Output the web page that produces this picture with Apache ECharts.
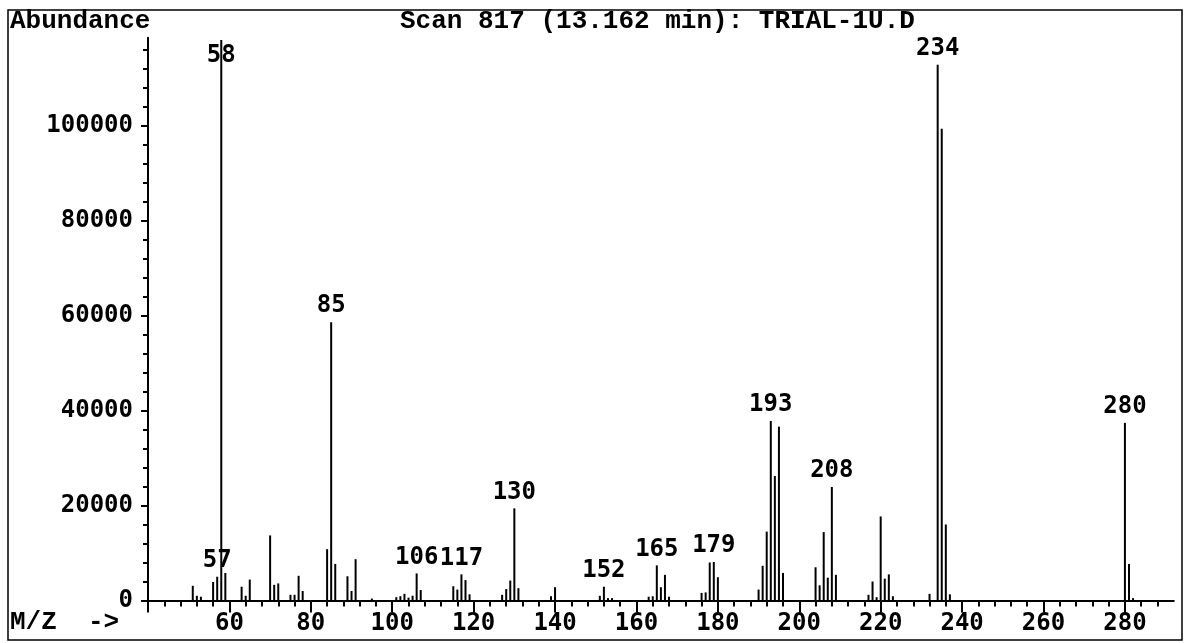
<!DOCTYPE html>
<html>
<head>
<meta charset="utf-8">
<script src="https://cdn.jsdelivr.net/npm/echarts@6/dist/echarts.min.js"></script>
<style>
html,body{margin:0;padding:0;background:#fff;}
#chart{width:1189px;height:643px;}
</style>
</head>
<body>
<div id="chart"></div>
<script>
// ---- data ----
const titleText = 'Scan 817 (13.162 min): TRIAL-1U.D';
const yAxisName = 'Abundance';
const xAxisName = 'M/Z  ->';
const mz = [51,52,53,56,57,58,59,63,64,65,70,71,72,75,76,77,78,84,85,86,89,90,91,
  95,101,102,103,104,105,106,107,115,116,117,118,119,127,128,129,130,131,139,140,
  151,152,153,154,163,164,165,166,167,168,176,177,178,179,180,
  190,191,192,193,194,195,196,204,205,206,207,208,209,217,218,219,220,221,222,223,
  232,234,235,236,237,280,281,282];
const abundance = [3100,1000,800,3900,5000,118000,5800,2900,1000,4400,13700,3300,3600,1200,1200,5200,2000,10800,58600,7700,5100,2000,8700,
  400,700,900,1400,600,1000,5700,2200,3000,2300,5500,4300,1300,1200,2400,4200,19400,2600,900,2800,
  1000,2900,500,500,800,900,7400,2800,5400,800,1600,1700,8000,8100,4900,
  2300,7300,14500,37800,26200,36600,5800,7000,3200,14400,4800,23900,5400,1200,4000,700,17700,4600,5500,900,
  1400,112800,99300,16000,1300,37400,7700,500];
const labeledPeaks = [57,58,85,106,117,130,152,165,179,193,208,234,280];
const xTickLabels = [60,80,100,120,140,160,180,200,220,240,260,280];
const yTickLabels = [0,20000,40000,60000,80000,100000];

// ---- layout (pixels) ----
const X0 = 148, PX = 4.0705;       // pixel of m/z 40, pixels per unit
const Y0 = 600.5, PY = 0.00475;    // baseline pixel, pixels per abundance unit
const XMIN = 40, XMAX = 292, YMAX = 118500;
const FONT = '"Liberation Mono", "DejaVu Sans Mono", monospace';
const NUMFONT = '"DejaVu Sans Mono", "Liberation Mono", monospace';

const seriesData = mz.map((m, i) => {
  const d = { value: [m, abundance[i]] };
  if (labeledPeaks.includes(m)) {
    d.label = { show: true };
    if (m === 58) d.label.offset = [0, 32];
  }
  return d;
});

const chart = echarts.init(document.getElementById('chart'), null, { renderer: 'canvas' });
const hidden = { show: false };
chart.setOption({
  animation: false,
  backgroundColor: '#fff',
  grid: [
    { left: X0, top: Y0 - YMAX * PY, width: (XMAX - XMIN) * PX, height: YMAX * PY, outerBoundsMode: 'none' },
    { left: X0, top: Y0 - 116000 * PY, width: (288 - XMIN) * PX, height: 116000 * PY, outerBoundsMode: 'none' },
    { left: X0, top: Y0 - 100000 * PY, width: (280 - XMIN) * PX, height: 100000 * PY, outerBoundsMode: 'none' }
  ],
  xAxis: [
    { type: 'value', gridIndex: 0, min: XMIN, max: XMAX, axisLine: { lineStyle: { color: '#000', width: 2 } },
      axisTick: hidden, axisLabel: hidden, splitLine: hidden },
    { type: 'value', gridIndex: 1, min: XMIN, max: 288, interval: 4, axisLine: hidden,
      axisTick: { show: true, length: 6, lineStyle: { color: '#000', width: 2 } }, axisLabel: hidden, splitLine: hidden },
    { type: 'value', gridIndex: 2, min: XMIN, max: 280, interval: 20, axisLine: hidden,
      axisTick: { show: true, length: 12, lineStyle: { color: '#000', width: 2 } },
      axisLabel: { show: true, margin: 11, color: '#000', fontFamily: NUMFONT, fontWeight: 'bold', fontSize: 24,
        formatter: v => xTickLabels.includes(v) ? String(v) : '' },
      splitLine: hidden }
  ],
  yAxis: [
    { type: 'value', gridIndex: 0, min: 0, max: YMAX, axisLine: { show: true, lineStyle: { color: '#000', width: 2 } },
      axisTick: hidden, axisLabel: hidden, splitLine: hidden },
    { type: 'value', gridIndex: 1, min: 0, max: 116000, interval: 4000, axisLine: hidden,
      axisTick: { show: true, length: 5, lineStyle: { color: '#000', width: 2 } }, axisLabel: hidden, splitLine: hidden },
    { type: 'value', gridIndex: 2, min: 0, max: 100000, interval: 20000, axisLine: hidden,
      axisTick: { show: true, length: 7, lineStyle: { color: '#000', width: 2 } },
      axisLabel: { show: true, margin: 15, color: '#000', fontFamily: NUMFONT, fontWeight: 'bold', fontSize: 24,
        formatter: v => yTickLabels.includes(v) ? String(v) : '' },
      splitLine: hidden }
  ],
  series: [{
    type: 'bar',
    xAxisIndex: 0, yAxisIndex: 0,
    barWidth: 2,
    itemStyle: { color: '#000' },
    label: { show: false, position: 'top', distance: 4, color: '#000', fontFamily: NUMFONT, fontWeight: 'bold', fontSize: 24,
      formatter: p => String(p.value[0]) },
    data: seriesData
  }],
  graphic: [
    { type: 'rect', shape: { x: 8, y: 10, width: 1174, height: 630 }, style: { fill: 'none', stroke: '#000', lineWidth: 1.5 }, silent: true },
    { type: 'text', left: 10, top: 8, style: { text: yAxisName, font: 'bold 26px ' + FONT, fill: '#000' } },
    { type: 'text', left: 400, top: 8, style: { text: titleText, font: 'bold 26px ' + FONT, fill: '#000' } },
    { type: 'text', left: 10, top: 609, style: { text: xAxisName, font: 'bold 26px ' + FONT, fill: '#000' } }
  ]
});
</script>
</body>
</html>
